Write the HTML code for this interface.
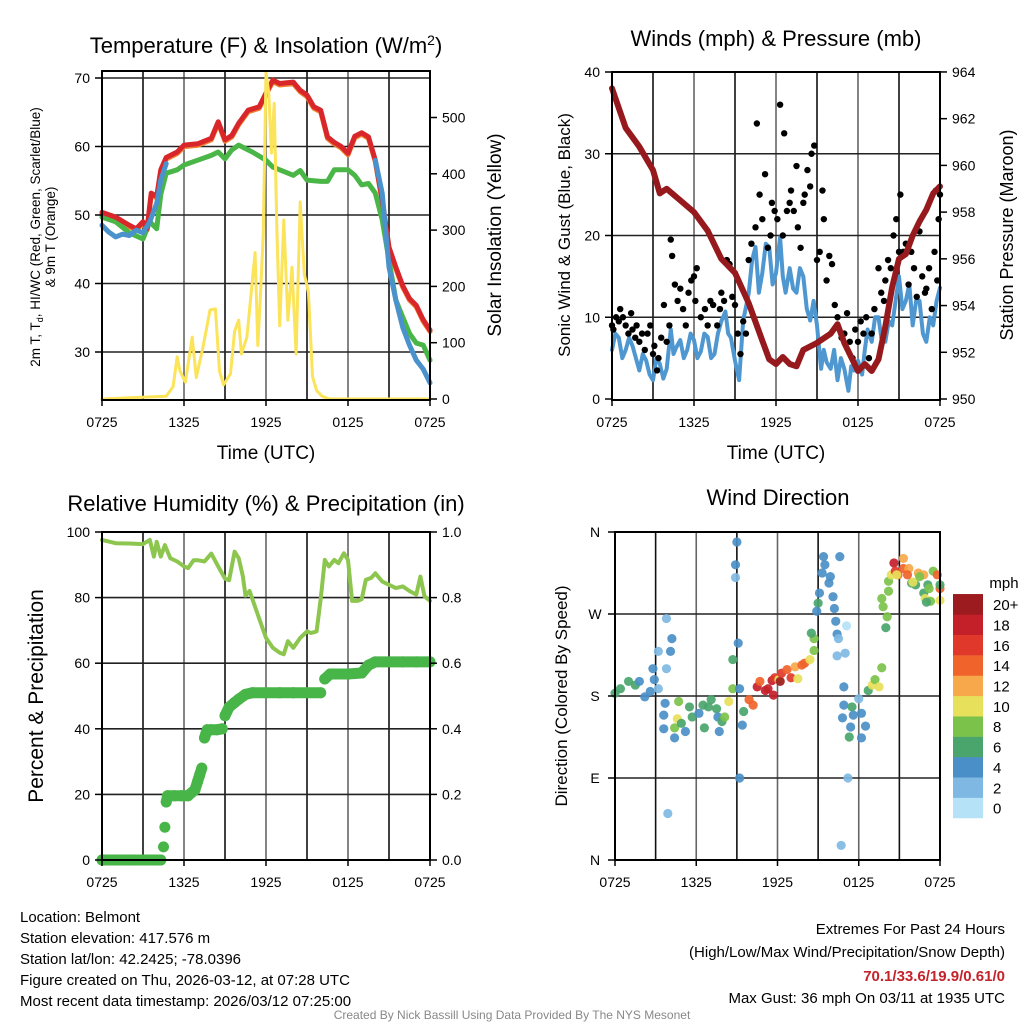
<!DOCTYPE html>
<html><head><meta charset="utf-8"><style>
html,body{margin:0;padding:0;background:#fff}
svg{display:block;font-family:"Liberation Sans",sans-serif}
</style></head><body>
<svg id="chart" width="1024" height="1024" viewBox="0 0 1024 1024" xmlns="http://www.w3.org/2000/svg">
<rect width="1024" height="1024" fill="#fff"/>
<g id="grids"></g>
<g id="marks"></g>
<g id="frames"></g>
<g id="labels" fill="#000">
<text x="266" y="53" font-size="22" text-anchor="middle">Temperature (F) &amp; Insolation (W/m<tspan dy="-8" font-size="14">2</tspan><tspan dy="8">)</tspan></text>
<text x="776" y="46" font-size="22" text-anchor="middle">Winds (mph) &amp; Pressure (mb)</text>
<text x="266" y="511" font-size="22" text-anchor="middle">Relative Humidity (%) &amp; Precipitation (in)</text>
<text x="778" y="505" font-size="22" text-anchor="middle">Wind Direction</text>
<text x="266" y="459" font-size="19" text-anchor="middle">Time (UTC)</text>
<text x="776" y="459" font-size="19" text-anchor="middle">Time (UTC)</text>
<text transform="translate(40,237) rotate(-90)" font-size="13.5" text-anchor="middle">2m T, T<tspan font-size="9" dy="3">d</tspan><tspan dy="-3">, HI/WC (Red, Green, Scarlet/Blue)</tspan></text>
<text transform="translate(55,237) rotate(-90)" font-size="13.5" text-anchor="middle">&amp; 9m T (Orange)</text>
<text transform="translate(501,235) rotate(-90)" font-size="19" text-anchor="middle">Solar Insolation (Yellow)</text>
<text transform="translate(570,235) rotate(-90)" font-size="17" text-anchor="middle">Sonic Wind &amp; Gust (Blue, Black)</text>
<text transform="translate(1013,235) rotate(-90)" font-size="18" text-anchor="middle">Station Pressure (Maroon)</text>
<text transform="translate(43,696) rotate(-90)" font-size="21" text-anchor="middle">Percent &amp; Precipitation</text>
<text transform="translate(567,696) rotate(-90)" font-size="17" text-anchor="middle">Direction (Colored By Speed)</text>
<text x="1004" y="588" font-size="15" text-anchor="middle">mph</text>
<g font-size="15">
<text x="20" y="922">Location: Belmont</text>
<text x="20" y="943">Station elevation: 417.576 m</text>
<text x="20" y="964">Station lat/lon: 42.2425; -78.0396</text>
<text x="20" y="985">Figure created on Thu, 2026-03-12, at 07:28 UTC</text>
<text x="20" y="1006">Most recent data timestamp: 2026/03/12 07:25:00</text>
</g>
<g font-size="15" text-anchor="end">
<text x="1005" y="934">Extremes For Past 24 Hours</text>
<text x="1005" y="957">(High/Low/Max Wind/Precipitation/Snow Depth)</text>
<text x="1005" y="981" fill="#c4232a" font-weight="bold">70.1/33.6/19.9/0.61/0</text>
<text x="1005" y="1003">Max Gust: 36 mph On 03/11 at 1935 UTC</text>
</g>
<text x="512" y="1019" font-size="12" fill="#888" text-anchor="middle">Created By Nick Bassill Using Data Provided By The NYS Mesonet</text>
</g>
</svg>
<script>
// ---- Temperature panel data (hours since 0725 UTC) ----
const tempTimes=[0,1,2,2.5,3,3.3,3.6,4,4.3,4.7,5.5,6,7,8,8.5,9,9.5,10,10.7,11.5,12,12.5,13,14,14.5,15,15.5,16,16.5,17,17.5,18,18.5,19,19.5,20,20.5,21,21.5,22,22.5,23,23.5,24];
const tempRed=[50.4,49.7,48.5,48,49,48,53.2,52.7,56.6,58.4,59.2,60.2,60.4,61.2,63.6,61,61.6,63.4,65.3,65.8,67.8,69.7,69.2,69.4,68.2,67.5,65.8,65.3,61.4,60.6,60,59,61.5,62,61.4,58,52.2,45.3,42.4,39.7,37.8,36.8,34.7,33.2];
const greenTimes=[0,1,2,3,3.5,4,4.3,4.7,5.5,6,7,8,8.5,9,9.5,10,11,12,12.5,13,14,14.5,15,16,16.5,17,17.5,18,18.5,19,19.5,20,20.5,21,21.5,22,22.5,23,23.5,24];
const tempGreen=[49.7,49,47.4,46.5,49,48,53,56.1,56.6,57.3,58,58.7,59.2,58.2,59.5,60.2,59.2,58,57,56.6,55.8,56.5,55.1,54.9,54.9,56.6,56.6,56.6,55.8,54.4,54.6,53.2,49.3,43.4,37.6,35.1,32.7,31.3,31,28.8];
const blueTimesA=[0,0.5,1,1.5,2,2.5,3,3.5,4,4.3,4.7];
const blueValsA=[48.5,47.5,46.8,47.2,47,47.8,47.4,49,51.7,55.1,57.5];
const blueTimesB=[20,20.5,21,21.5,22,22.5,23,23.5,24];
const blueValsB=[58,53.2,42.4,37.6,33.6,31,28.8,27.5,25.5];
const solarTimes=[0,4.7,5.2,5.5,5.7,6.1,6.6,6.9,7.4,7.9,8.3,8.6,8.9,9.4,9.7,10,10.2,10.6,10.9,11.2,11.4,11.6,11.8,12,12.2,12.4,12.6,12.8,13,13.3,13.6,13.9,14.2,14.5,14.8,15.1,15.4,15.7,16.1,16.6,24];
const solarVals=[0,5,22,75,50,30,110,38,93,158,160,50,25,45,120,140,80,110,185,260,95,185,295,580,545,437,525,300,130,318,140,234,80,350,222,190,40,15,5,0,0];
const tempTicks=[30,40,50,60,70];
const solarTicks=[0,100,200,300,400,500];
const timeTickLabels=["0725","1325","1925","0125","0725"];
// ---- Winds panel data ----
const pressTimes=[0,1,2,3,3.5,4,5,6,7,8,9,10,11,11.5,12,12.5,13,13.5,14,15,16,16.5,17,18,18.5,19,19.5,20,20.5,21,21.5,22,22.5,23,23.5,24];
const pressVals=[963.3,961.6,960.8,959.8,958.8,959,958.5,958,957.2,956,955.4,954.1,952.5,951.7,951.5,951.8,951.5,951.4,952.1,952.4,952.8,953.2,952.4,951.2,951.5,951.2,951.7,953.1,954.8,956,956.2,957,957.6,958.1,958.8,959.1];
const windTimes=[0,0.25,0.5,0.75,1,1.25,1.5,1.75,2,2.25,2.5,2.75,3,3.25,3.5,3.75,4,4.3,4.5,4.7,5,5.25,5.5,5.75,6,6.25,6.5,6.75,7,7.25,7.5,7.75,8,8.3,8.5,8.7,9,9.3,9.6,10,10.25,10.5,10.75,11,11.25,11.5,11.75,12,12.3,12.5,12.7,13,13.25,13.5,13.75,14,14.25,14.5,14.75,15,15.3,15.5,15.7,16,16.25,16.5,16.75,17,17.3,17.5,17.7,18,18.3,18.5,18.7,19,19.25,19.5,19.75,20,20.25,20.5,20.75,21,21.25,21.5,21.75,22,22.25,22.5,22.75,23,23.25,23.5,23.75,24];
const windVals=[6,8,7.5,5,6,7.5,6.5,5,3.5,5.5,4.7,3,2.3,5,4.3,2.5,3.7,8.5,5.5,6.3,7.2,5,6,8,7.2,5,5.8,8,7.6,5,5.5,8,9.5,10.7,8,7.5,4.7,2.3,9.6,12.9,17,18.6,13,15.4,19,18.6,14,15.4,19.8,15,13,16,13.5,13,16,15,11,9.6,12,9,3.7,6,4.5,3.7,6,2.3,5,3.7,1,4,3.5,4.7,3,6,8.5,7,10,10,7,7,9.5,9,12,15,11,12,14,9,12,12,8,7,10,9,12,13.6];
const gustTimes=[0,0.1,0.3,0.5,0.6,0.8,1,1.2,1.4,1.5,1.7,1.8,2,2.2,2.4,2.6,2.8,3,3.1,3.3,3.4,3.6,3.8,4,4.2,4.3,4.4,4.6,4.8,5,5.2,5.4,5.6,5.8,6,6.1,6.2,6.5,6.8,7,7.2,7.4,7.7,7.9,8,8.2,8.4,8.6,8.8,9,9.2,9.4,9.6,9.8,10,10.2,10.5,10.6,10.8,11,11.2,11.4,11.6,11.7,11.9,12.1,12.3,12.5,12.6,12.8,13,13.1,13.3,13.5,13.6,13.8,14,14.1,14.3,14.5,14.6,14.8,15,15.2,15.4,15.5,15.7,15.9,16.1,16.3,16.5,16.8,17,17.2,17.4,17.6,17.8,18,18.2,18.4,18.6,18.8,19,19.2,19.5,19.7,19.9,20,20.2,20.4,20.6,20.8,21,21.1,21.3,21.5,21.7,21.9,22.1,22.3,22.5,22.7,22.9,23,23.2,23.4,23.6,23.7,23.8,23.9,24];
const gustVals=[9,8.5,10,9.5,11,10,9,8,10.5,8.5,7.5,9,7,8,6,8,9,5.5,6.5,3.5,5,7.5,11.5,7,9,19.5,17.5,14,12,13.5,11,9,13,14.5,15,12,16,10,11,9,12,11.5,9,11,13,12,17,16.5,12.5,11.5,8,5.5,9.5,8,17,19,21,33.7,25,22,27.5,18.5,20,24,23,22,36,20,32.5,23,24,25.5,23,28.5,21,18.5,24,25,28,26,30,31,17,18,25.5,22,14.5,17.5,16.5,11.5,10,7.5,8,10.5,7,5,8.5,7,9.5,8,10,5,8,11,16,13,12,14.5,17,16,20,22,18,25,18,19,14,18,16,12.5,20.5,15,13,13.5,16,11,18,25.5,14.5,22,25];
const windTicks=[0,10,20,30,40];
const pressTicks=[950,952,954,956,958,960,962,964];
// ---- Humidity / precipitation data ----
const rhTimes=[0,1,2,3,3.5,3.8,4,4.3,4.6,5,5.5,6,6.3,6.7,7,7.5,8,8.5,9,9.3,9.7,10,10.3,10.5,10.8,11,11.5,12,12.5,13,13.3,13.6,14,14.5,15,15.3,15.7,16,16.3,16.6,17,17.3,17.7,18,18.3,18.7,19,19.3,19.7,20,20.5,21,21.5,22,22.5,23,23.3,23.6,24];
const rhVals=[97.6,96.6,96.5,96.3,97.6,92.5,97,92.5,96,92,91,89.5,89,91.4,91.4,91,93.4,89.5,85.8,85.3,94,92,86.6,80.6,82,79.6,73.6,67.7,64.7,63.2,62.7,66.7,64.7,67.7,69.7,69.2,69.7,79.6,91.5,89.5,91.5,90.5,93.5,91.5,79,79,79.5,85.4,86,87.4,84.9,83.9,82.9,83.4,82,80.9,86.4,80.4,79];
const precipTimes=[0,1,2,3,4,4.3,4.5,4.6,4.7,4.8,5.3,5.8,6.3,6.8,7,7.15,7.3,7.5,7.6,7.7,8,8.4,8.8,9,9.3,9.7,10,10.5,11,12,13,14,15,16,16.3,16.7,17,18,19,19.5,20,21,22,23,24];
const precipVals=[0,0,0,0,0,0,0.04,0.1,0.177,0.196,0.196,0.196,0.196,0.214,0.24,0.26,0.28,0.372,0.385,0.397,0.397,0.397,0.4,0.44,0.466,0.48,0.49,0.505,0.51,0.51,0.51,0.51,0.51,0.51,0.552,0.567,0.567,0.567,0.57,0.594,0.604,0.604,0.604,0.604,0.604];
const rhTicks=[0,20,40,60,80,100];
const precipTicks=["0.0","0.2","0.4","0.6","0.8","1.0"];
// ---- Wind direction data ----
const dirTimes=[0,0.4,1,1.5,1.8,2.2,2.6,2.9,3.2,2.8,3.2,3.8,4.2,4.1,3.8,3.7,3.6,4.6,4.4,3.6,4.4,4.9,4.7,5.2,5.5,5.7,6.2,6.5,6.6,6.9,7.1,7.5,7.7,7.6,7.9,8.1,8.4,8.7,8.7,9.1,8.9,8.9,9,9.2,9.4,9.2,3.9,9.5,9.9,10.2,10.5,10.7,11.1,11.3,11.6,11.7,11.8,12.1,12.2,12.3,12.7,13,13.3,13.5,13.8,14,14.4,14.7,14.7,14.5,15,14.9,15.1,15.3,15.4,15.5,15.8,15.9,16.1,16.2,16.3,16.4,16.5,16.6,17.1,17,16.4,16.9,16.9,16.8,17.5,17.6,17.4,17.3,18,18.2,18.2,18.5,17.2,16.7,18.7,19,19.2,19.5,19.7,20,20.1,19.7,19.8,20.2,20.2,20.4,20.6,20.7,20.9,21.3,21.3,21.7,21.9,22.2,22,22.4,22.8,22.8,22.9,23.1,23.2,23.3,23.5,23.8,24,24,24,23,22.5,21.6,20.8];
const dirVals=[183,188,196,192,196,179,185,198,188,210,229,265,243,229,210,172,159,155,145,144,134,150,174,141,168,157,161,170,145,168,176,166,141,157,152,157,174,188,220,238,310,324,349,188,148,90,51,163,176,170,190,196,186,188,197,181,200,198,196,205,209,200,212,199,214,216,220,230,243,249,282,273,293,315,333,324,304,311,289,276,262,248,243,333,257,227,224,190,170,156,168,159,146,135,177,161,134,147,90,16,186,192,198,190,211,255,267,287,278,295,306,313,326,317,313,331,320,320,304,302,305,315,313,293,287,302,298,284,317,313,298,285,302,283,311,313,313];
const dirSpeeds=[6,6,6,6,4,4,4,4,2,4,2,2,4,4,2,4,4,10,8,4,4,6,8,4,6,6,4,6,6,6,6,6,4,4,6,8,10,8,6,4,2,4,4,4,4,4,2,6,14,14,18,14,18,18,18,18,16,10,20,16,14,16,12,10,14,14,10,8,8,6,6,4,4,4,4,4,4,4,4,4,4,4,2,4,0,2,2,4,4,4,6,4,4,6,2,4,4,4,2,2,6,10,8,10,8,6,8,8,8,8,8,10,18,16,14,12,14,12,6,6,10,12,12,6,10,6,8,8,8,14,14,10,6,6,8,14,10];
const dirTickLabels=["N","E","S","W","N"];
const speedBins=["0","2","4","6","8","10","12","14","16","18","20+"];

const NS="http://www.w3.org/2000/svg";
const grids=document.getElementById('grids'),marks=document.getElementById('marks'),frames=document.getElementById('frames'),labelsG=document.getElementById('labels');
function mk(tag,attrs,parent){const e=document.createElementNS(NS,tag);for(const k in attrs)e.setAttribute(k,attrs[k]);parent.appendChild(e);return e;}

const P1={x0:102,x1:430,y0:71,y1:400};
const P2={x0:612,x1:940,y0:72,y1:400};
const P3={x0:102,x1:430,y0:532,y1:860};
const P4={x0:615,x1:940,y0:532,y1:860};
function xs(P,t){return P.x0+(P.x1-P.x0)*t/24;}
const yTemp=v=>78+(70-v)*6.85;
const ySolar=v=>399-v*0.563;
const yWind=v=>399-v*8.175;
const yPress=p=>399-(p-950)*23.36;
const yRH=v=>860-v*3.28;
const yPrecip=v=>860-v*328;
const yDir=d=>860-d/360*328;

function panelGrid(P,hy,name){
  for(let i=1;i<8;i++){const x=xs(P,i*3);
    const l=mk('line',{x1:x,x2:x,y1:P.y0,y2:P.y1,stroke:i%2?'#111':'#666','stroke-width':1.6},grids);
    
    }
  hy.forEach(y=>{const l=mk('line',{x1:P.x0,x2:P.x1,y1:y,y2:y,stroke:'#222','stroke-width':1.6},grids);
    
    });
  const r=mk('rect',{x:P.x0,y:P.y0,width:P.x1-P.x0,height:P.y1-P.y0,fill:'none',stroke:'#000','stroke-width':2},frames);
  
  
  timeTickLabels.forEach((s,i)=>{const x=xs(P,i*6);
    mk('line',{x1:x,x2:x,y1:P.y1,y2:P.y1+6,stroke:'#000','stroke-width':1.5},frames);
    const t=mk('text',{x:x,y:P.y1+27,'font-size':14,'text-anchor':'middle'},labelsG);t.textContent=s;
    
    });
}
function yTicks(P,vals,fy,side,fmt,name){
  vals.forEach(v=>{const y=fy(v);const x=side==='l'?P.x0:P.x1;
    mk('line',{x1:x,x2:side==='l'?x-7:x+7,y1:y,y2:y,stroke:'#000','stroke-width':1.5},frames);
    const t=mk('text',{x:side==='l'?x-12:x+12,y:y+5,'font-size':14,'text-anchor':side==='l'?'end':'start'},labelsG);
    t.textContent=fmt(v);
    
    });
}
function poly(ts,vs,P,fy,color,w,name){
  const pts=ts.map((t,i)=>xs(P,t).toFixed(1)+','+fy(vs[i]).toFixed(1)).join(' ');
  const e=mk('polyline',{points:pts,fill:'none',stroke:color,'stroke-width':w,'stroke-linejoin':'round','stroke-linecap':'round'},marks);
  
  
  return e;
}

// Panel 1
panelGrid(P1,tempTicks.map(yTemp),'temperature');
yTicks(P1,tempTicks,yTemp,'l',v=>v,'temperature-y');
yTicks(P1,solarTicks,ySolar,'r',v=>v,'solar-y');
poly(tempTimes,tempRed,P1,v=>yTemp(v)+1.5,'#f08030',5,'nine-meter-temperature-line');
poly(greenTimes,tempGreen,P1,yTemp,'#4bb648',5,'dewpoint-line');
poly(tempTimes,tempRed,P1,yTemp,'#d9262b',5,'temperature-line');
poly(blueTimesA,blueValsA,P1,yTemp,'#4a92cc',5,'wind-chill-line-morning');
poly(blueTimesB,blueValsB,P1,yTemp,'#4a92cc',5,'wind-chill-line-evening');
poly(solarTimes,solarVals,P1,ySolar,'#fbe35a',3,'solar-insolation-line');

// Panel 2
panelGrid(P2,[10,20,30].map(yWind),'winds');
yTicks(P2,windTicks,yWind,'l',v=>v,'wind-y');
yTicks(P2,pressTicks,yPress,'r',v=>v,'pressure-y');
poly(windTimes,windVals,P2,yWind,'#4e97d1',4,'sustained-wind-line');
gustTimes.forEach((t,i)=>{const c=mk('circle',{cx:xs(P2,t),cy:yWind(gustVals[i]),r:3.2,fill:'#000'},marks);
  
  });
poly(pressTimes,pressVals,P2,yPress,'#961a1d',6,'station-pressure-line');

// Panel 3
panelGrid(P3,[20,40,60,80].map(yRH),'humidity');
yTicks(P3,rhTicks,yRH,'l',v=>v,'humidity-y');
precipTicks.forEach(s=>{const y=yPrecip(parseFloat(s));
  mk('line',{x1:P3.x1,x2:P3.x1+7,y1:y,y2:y,stroke:'#000','stroke-width':1.5},frames);
  const t=mk('text',{x:P3.x1+12,y:y+5,'font-size':14},labelsG);t.textContent=s;
  
  });
poly(rhTimes,rhVals,P3,yRH,'#8dc64e',4,'relative-humidity-line');
for(let i=1;i<precipTimes.length;i++){
  if(Math.abs(precipVals[i]-precipVals[i-1])<0.03){
    const l=mk('line',{x1:xs(P3,precipTimes[i-1]),y1:yPrecip(precipVals[i-1]),x2:xs(P3,precipTimes[i]),y2:yPrecip(precipVals[i]),stroke:'#48b549','stroke-width':11,'stroke-linecap':'round'},marks);
    
    }
}
precipTimes.forEach((t,i)=>{const c=mk('circle',{cx:xs(P3,t),cy:yPrecip(precipVals[i]),r:5.5,fill:'#48b549'},marks);
  
  });

// Panel 4
panelGrid(P4,[90,180,270].map(yDir),'direction');
dirTickLabels.forEach((s,i)=>{const y=yDir(i*90);
  mk('line',{x1:P4.x0,x2:P4.x0-7,y1:y,y2:y,stroke:'#000','stroke-width':1.5},frames);
  const t=mk('text',{x:P4.x0-20,y:y+5,'font-size':14,'text-anchor':'middle'},labelsG);t.textContent=s;
  
  });
const binColors=['#b5e2f7','#7fb9e3','#4a8fc7','#4aa56d','#7bc24a','#e7e05a','#f7a84a','#f0632a','#e0382b','#c3202a','#9b1b1e'];
dirTimes.forEach((t,i)=>{const b=Math.min(10,Math.floor(dirSpeeds[i]/2));
  const c=mk('circle',{cx:xs(P4,t),cy:yDir(dirVals[i]),r:4.6,fill:binColors[b],'fill-opacity':0.92},marks);
  
  });
speedBins.forEach((s,i)=>{const y=818-(i+1)*20.36;
  const r=mk('rect',{x:953,y:y,width:30,height:20.6,fill:binColors[i]},marks);
  
  
  const t=mk('text',{x:993,y:y+16,'font-size':15},labelsG);t.textContent=s;
  
  });
</script>
</body></html>
